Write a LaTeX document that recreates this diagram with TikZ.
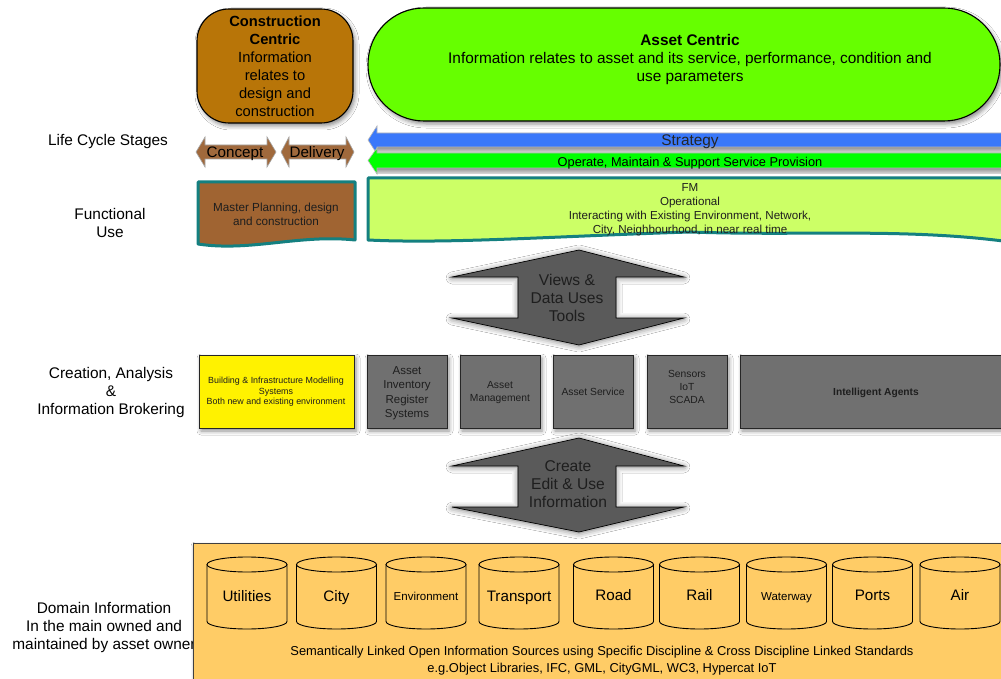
\documentclass[tikz,border=0pt]{standalone}
\usepackage{fontspec}
\setmainfont{Liberation Sans}
\usetikzlibrary{shadows.blur}

\definecolor{ccbrown}{RGB}{184,117,8}
\definecolor{acgreen}{RGB}{102,255,0}
\definecolor{stratblue}{RGB}{58,120,250}
\definecolor{opgreen}{RGB}{0,255,0}
\definecolor{stagebrown}{RGB}{160,105,60}
\definecolor{mpbrown}{RGB}{160,100,50}
\definecolor{tealedge}{RGB}{20,128,128}
\definecolor{fmgreen}{RGB}{204,255,102}
\definecolor{toolgrey}{RGB}{112,112,112}
\definecolor{arrowgrey}{RGB}{90,90,90}
\definecolor{domorange}{RGB}{255,204,102}
\definecolor{darktext}{RGB}{30,30,30}

% database cylinder with its label node: name, centre x, label, font size, baseline y
\newcommand{\dbcyl}[5]{%
  \draw[cylline] (#2-40,564.5) -- (#2-40,621.5)
    arc[start angle=180, end angle=0, x radius=40, y radius=7.5] -- (#2+40,564.5);
  \draw[cylline] (#2,564.5) ellipse [x radius=40, y radius=7.5];
  \node[txt, anchor=base, font=\fontsize{#4}{#4}\selectfont] (#1) at (#2,#5) {#3};
}

\begin{document}
\begin{tikzpicture}[x=1pt, y=-1pt,
  txt/.style={align=center, inner sep=0pt, text=black},
  sidelabel/.style={txt, font=\fontsize{15.4}{17.8}\selectfont},
  softshadow/.style={blur shadow={shadow xshift=2pt, shadow yshift=-3pt, shadow blur radius=4pt, shadow opacity=45}},
  glow/.style={blur shadow={shadow xshift=0pt, shadow yshift=-1pt, shadow blur radius=6pt, shadow opacity=55}},
  stagearrow/.style={fill=stagebrown, draw=gray!70, line width=0.6pt},
  funcbox/.style={draw=tealedge, line width=3pt, line join=round},
  toolbox/.style={fill=toolgrey, draw=black!85, line width=0.9pt, softshadow},
  tooltxt/.style={txt, text=darktext},
  bigarrow/.style={fill=arrowgrey, draw=black, line width=0.7pt, glow},
  cylline/.style={draw=black, line width=0.9pt},
]
\useasboundingbox (0,0) rectangle (1001,679);
\fill[white] (0,0) rectangle (1001,679);

% ---------- top: information focus ----------
\path[fill=ccbrown, draw=black, line width=1.1pt, rounded corners=32, softshadow]
  (197,9) rectangle (353,123);
\node[txt, font=\fontsize{14.7}{18}\selectfont] (cc) at (275,66)
  {\textbf{Construction}\\\textbf{Centric}\\Information\\relates to\\design and\\construction};

\path[fill=acgreen, draw=black, line width=1.1pt, rounded corners=56, softshadow]
  (368,8) rectangle (1000,121);
\node[txt, font=\fontsize{15.4}{18}\selectfont] (ac) at (690,60)
  {\textbf{Asset Centric}\\Information relates to asset and its service, performance, condition and\\use parameters};

% ---------- row labels ----------
\node[sidelabel] (lcs) at (108,142) {Life Cycle Stages};
\node[sidelabel] (fu) at (110,223) {Functional\\Use};
\node[sidelabel] (cab) at (111,392.5) {Creation, Analysis\\\&\\Information Brokering};
\node[sidelabel] (dom) at (104,627.5) {Domain Information\\In the main owned and\\maintained by asset owner};

% ---------- life cycle stages ----------
\path[stagearrow] (196,152) -- (205,137) -- (205,145) -- (267,145) -- (267,137) -- (276,152)
  -- (267,167) -- (267,159) -- (205,159) -- (205,167) -- cycle;
\node[txt, font=\fontsize{15.2}{15}\selectfont] (concept) at (235,154) {Concept};
\path[stagearrow] (281,152) -- (289,137) -- (289,145) -- (346,145) -- (346,137) -- (354,152)
  -- (346,167) -- (346,159) -- (289,159) -- (289,167) -- cycle;
\node[txt, font=\fontsize{15.2}{15}\selectfont] (delivery) at (317,154) {Delivery};

% strategy bar with its grey underside
\shade[top color=gray!85, bottom color=gray!25] (376,147) rectangle (1001,153);
\path[fill=stratblue, draw=gray!55, line width=0.6pt]
  (1001,133) -- (377,133) -- (377,126) -- (368,140) -- (377,154) -- (377,147) -- (1001,147);
\node[txt, font=\fontsize{15.4}{15}\selectfont, text=black!85] (strat) at (690,142) {Strategy};

% operate bar with its grey underside
\shade[top color=gray!85, bottom color=gray!25] (376,168) rectangle (1001,174);
\path[fill=opgreen, draw=gray!55, line width=0.6pt]
  (1001,153) -- (377,153) -- (377,148) -- (368,160.5) -- (377,174) -- (377,168) -- (1001,168);
\node[txt, font=\fontsize{12.8}{13}\selectfont] (op) at (690,163.5)
  {Operate, Maintain \& Support Service Provision};

% ---------- functional use ----------
\path[funcbox, fill=mpbrown]
  (198,182) -- (355,182) -- (355,240)
  .. controls (300,234) and (250,252) .. (198,244) -- cycle;
\node[txt, font=\fontsize{11.7}{14}\selectfont, text=darktext] (mp) at (276,214)
  {Master Planning, design\\and construction};

\path[funcbox, fill=fmgreen]
  (368,178) -- (1003,178) -- (1003,241)
  .. controls (900,228) and (800,236) .. (690,232)
  .. controls (560,236) and (450,244) .. (368,240) -- cycle;
\node[txt, font=\fontsize{11.6}{14}\selectfont, text=darktext] (fm) at (690,210)
  {FM\\Operational\\Interacting with Existing Environment, Network,\\City, Neighbourhood, in near real time};

% ---------- views arrow ----------
\path[bigarrow] (579,250) -- (684,277) -- (616,277) -- (616,318) -- (684,318) -- (579,345)
  -- (452,318) -- (518,318) -- (518,277) -- (452,277) -- cycle;
\node[txt, font=\fontsize{15.6}{18}\selectfont, text=darktext] (views) at (567,298)
  {Views \&\\Data Uses\\Tools};

% ---------- creation, analysis & brokering tools ----------
\path[fill=yellow, draw=black!85, line width=0.9pt, softshadow] (199,355) rectangle (354,428);
\node[tooltxt, font=\fontsize{8.9}{10.5}\selectfont] (bim) at (276,392)
  {Building \& Infrastructure Modelling\\Systems\\Both new and existing environment};

\path[toolbox] (367,355) rectangle (447,428);
\node[tooltxt, font=\fontsize{11.5}{14.5}\selectfont] (inv) at (407,393)
  {Asset\\Inventory\\Register\\Systems};
\path[toolbox] (460,355) rectangle (540,428);
\node[tooltxt, font=\fontsize{10.3}{13}\selectfont] (mgmt) at (500,392.5) {Asset\\Management};
\path[toolbox] (553,355) rectangle (633,428);
\node[tooltxt, font=\fontsize{10.3}{13}\selectfont] (svc) at (593,392) {Asset Service};
\path[toolbox] (647,355) rectangle (727,428);
\node[tooltxt, font=\fontsize{10.3}{13}\selectfont] (iot) at (687,387) {Sensors\\IoT\\SCADA};
\path[toolbox] (740,355) rectangle (1006,428);
\node[tooltxt, font=\fontsize{10.2}{13}\selectfont\bfseries] (agents) at (876,393) {Intelligent Agents};

% ---------- create arrow ----------
\path[bigarrow] (579,438) -- (684,466) -- (616,466) -- (616,507) -- (684,507) -- (579,532)
  -- (452,507) -- (518,507) -- (518,466) -- (452,466) -- cycle;
\node[txt, font=\fontsize{15.6}{18}\selectfont, text=darktext] (create) at (568,484)
  {Create\\Edit \& Use\\Information};

% ---------- domain information ----------
\path[fill=domorange, draw=black!75, line width=0.9pt, softshadow] (193,543) rectangle (1006,685);

\dbcyl{util}{247}{Utilities}{15.2}{601}
\dbcyl{city}{336.5}{City}{15.2}{601}
\dbcyl{env}{426}{Environment}{11.5}{600}
\dbcyl{trans}{519}{Transport}{15.2}{601}
\dbcyl{road}{613.5}{Road}{15.2}{600}
\dbcyl{rail}{699.5}{Rail}{15.2}{600}
\dbcyl{water}{786.5}{Waterway}{11.5}{600}
\dbcyl{ports}{872.5}{Ports}{15.2}{600}
\dbcyl{air}{960}{Air}{15.2}{600}

\node[txt, font=\fontsize{12.9}{17}\selectfont] (std) at (602,660.5)
  {Semantically Linked Open Information Sources using Specific Discipline \& Cross Discipline Linked Standards\\
   e.g.Object Libraries, IFC, GML, CityGML, WC3, Hypercat IoT};
\end{tikzpicture}
\end{document}
